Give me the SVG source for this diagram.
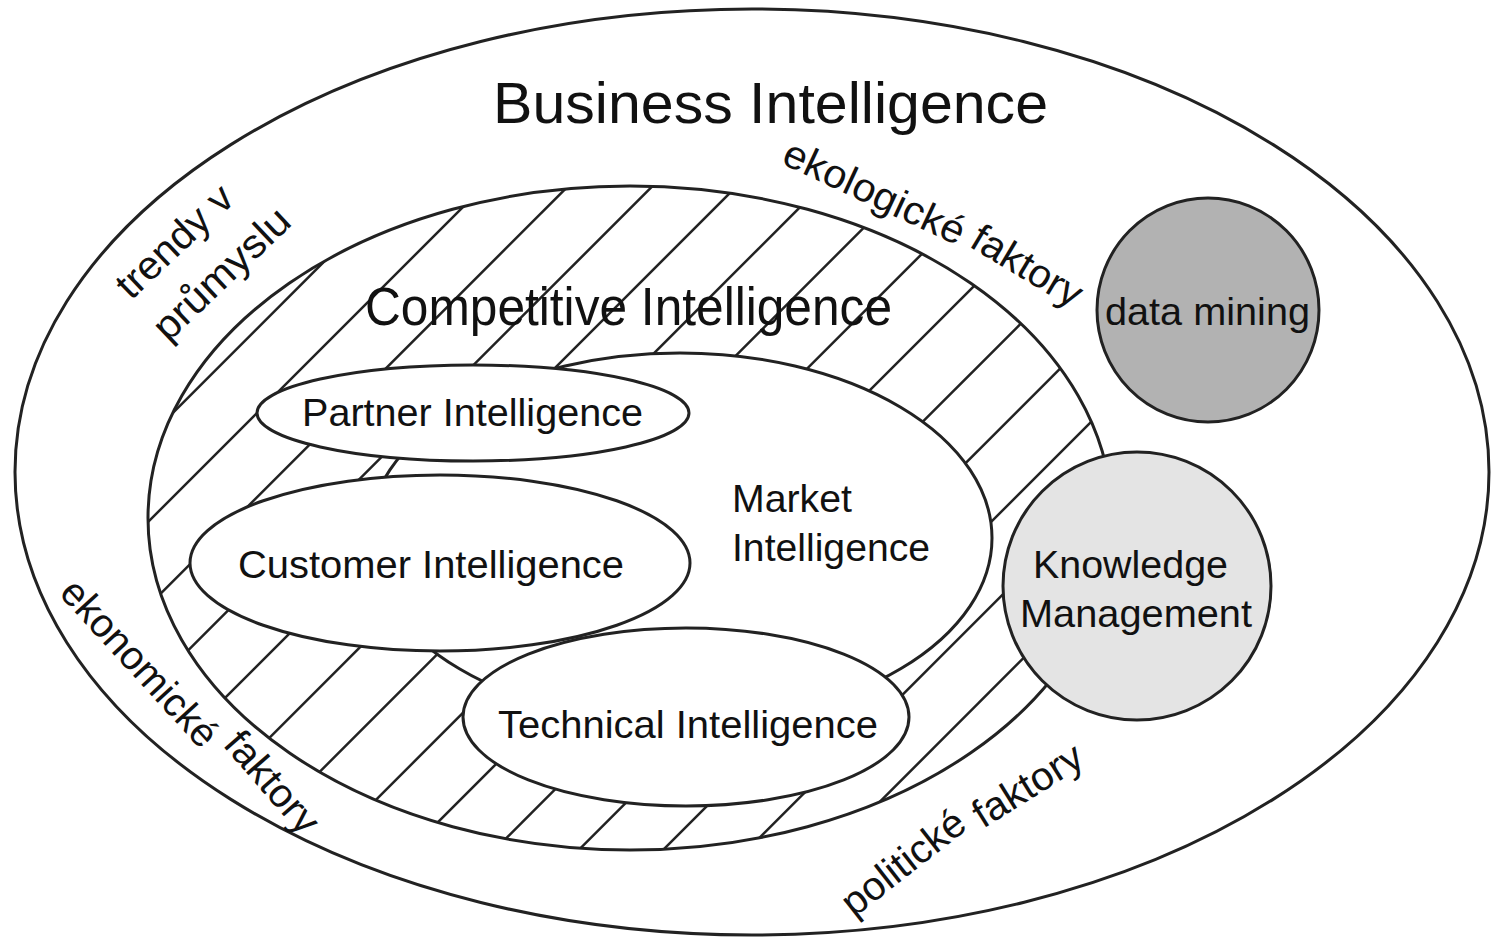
<svg xmlns="http://www.w3.org/2000/svg" width="1493" height="939" viewBox="0 0 1493 939">
<defs>
<style>
.ol{fill:none;stroke:#222;stroke-width:3}
.wh{fill:#fff;stroke:#222;stroke-width:3}
.hatch line{stroke:#222;stroke-width:2.5}
text{font-family:"Liberation Sans",Arial,sans-serif;fill:#111}
.lbl{font-size:39px}
.fac{font-size:40px}
</style>
<clipPath id="ciClip"><ellipse cx="630" cy="518" rx="482" ry="332"/></clipPath>
</defs>
<rect width="1493" height="939" fill="#fff"/>
<g id="business-intelligence">
<ellipse class="ol" cx="752" cy="472" rx="737" ry="463" stroke-width="2.5"/>
<text x="493" y="123" font-size="57" textLength="555" lengthAdjust="spacingAndGlyphs">Business Intelligence</text>
</g>
<g id="competitive-intelligence">
<g class="hatch" clip-path="url(#ciClip)">
<line x1="100" y1="485.7" x2="1150" y2="-564.3"/>
<line x1="100" y1="570" x2="1150" y2="-480"/>
<line x1="100" y1="654.3" x2="1150" y2="-395.7"/>
<line x1="100" y1="738.6" x2="1150" y2="-311.4"/>
<line x1="100" y1="822.9" x2="1150" y2="-227.1"/>
<line x1="100" y1="907.2" x2="1150" y2="-142.8"/>
<line x1="100" y1="991.5" x2="1150" y2="-58.5"/>
<line x1="100" y1="1075.8" x2="1150" y2="25.8"/>
<line x1="100" y1="1160.1" x2="1150" y2="110.1"/>
<line x1="100" y1="1244.4" x2="1150" y2="194.4"/>
<line x1="100" y1="1328.7" x2="1150" y2="278.7"/>
<line x1="100" y1="1413" x2="1150" y2="363"/>
<line x1="100" y1="1497.3" x2="1150" y2="447.3"/>
<line x1="100" y1="1581.6" x2="1150" y2="531.6"/>
</g>
<ellipse class="ol" cx="630" cy="518" rx="482" ry="332"/>
<text x="365" y="325" font-size="54" textLength="527" lengthAdjust="spacingAndGlyphs">Competitive Intelligence</text>
</g>
<g id="market-intelligence">
<ellipse class="wh" cx="680" cy="538" rx="312" ry="185"/>
<text class="lbl" x="732" y="512" textLength="120" lengthAdjust="spacingAndGlyphs">Market</text>
<text class="lbl" x="732" y="561" textLength="198" lengthAdjust="spacingAndGlyphs">Intelligence</text>
</g>
<g id="partner-intelligence">
<ellipse class="wh" cx="473" cy="413" rx="216" ry="48"/>
<text class="lbl" x="302" y="426" textLength="341" lengthAdjust="spacingAndGlyphs">Partner Intelligence</text>
</g>
<g id="customer-intelligence">
<ellipse class="wh" cx="440" cy="563" rx="250" ry="88"/>
<text class="lbl" x="238" y="578" textLength="386" lengthAdjust="spacingAndGlyphs">Customer Intelligence</text>
</g>
<g id="technical-intelligence">
<ellipse class="wh" cx="686" cy="717" rx="223" ry="89"/>
<text class="lbl" x="498" y="738" textLength="380" lengthAdjust="spacingAndGlyphs">Technical Intelligence</text>
</g>
<g id="knowledge-management">
<ellipse cx="1137" cy="586" rx="134" ry="134" fill="#e4e4e4" stroke="#222" stroke-width="3"/>
<text class="lbl" x="1033" y="578" textLength="195" lengthAdjust="spacingAndGlyphs">Knowledge</text>
<text class="lbl" x="1020" y="627" textLength="232" lengthAdjust="spacingAndGlyphs">Management</text>
</g>
<g id="data-mining">
<ellipse cx="1208" cy="310" rx="111" ry="112" fill="#b2b2b2" stroke="#222" stroke-width="3"/>
<text class="lbl" x="1105" y="325" textLength="205" lengthAdjust="spacingAndGlyphs">data mining</text>
</g>
<g id="trendy-v-prumyslu">
<text class="fac" transform="translate(131,301) rotate(-43.5)" textLength="145" lengthAdjust="spacingAndGlyphs">trendy v</text>
<text class="fac" transform="translate(168,343) rotate(-43.5)" textLength="173" lengthAdjust="spacingAndGlyphs">průmyslu</text>
</g>
<g id="ekologicke-faktory">
<text class="fac" transform="translate(780,163) rotate(25)" textLength="196" lengthAdjust="spacingAndGlyphs">ekologické</text>
<text class="fac" transform="translate(968,246) rotate(31)" textLength="122" lengthAdjust="spacingAndGlyphs">faktory</text>
</g>
<g id="ekonomicke-faktory">
<text class="fac" transform="translate(58,594) rotate(47.5)" textLength="212" lengthAdjust="spacingAndGlyphs">ekonomické</text>
<text class="fac" transform="translate(222,745) rotate(49)" textLength="122" lengthAdjust="spacingAndGlyphs">faktory</text>
</g>
<g id="politicke-faktory">
<text class="fac" transform="translate(854,918) rotate(-38)" textLength="146" lengthAdjust="spacingAndGlyphs">politické</text>
<text class="fac" transform="translate(983,829) rotate(-32)" textLength="122" lengthAdjust="spacingAndGlyphs">faktory</text>
</g>
</svg>
